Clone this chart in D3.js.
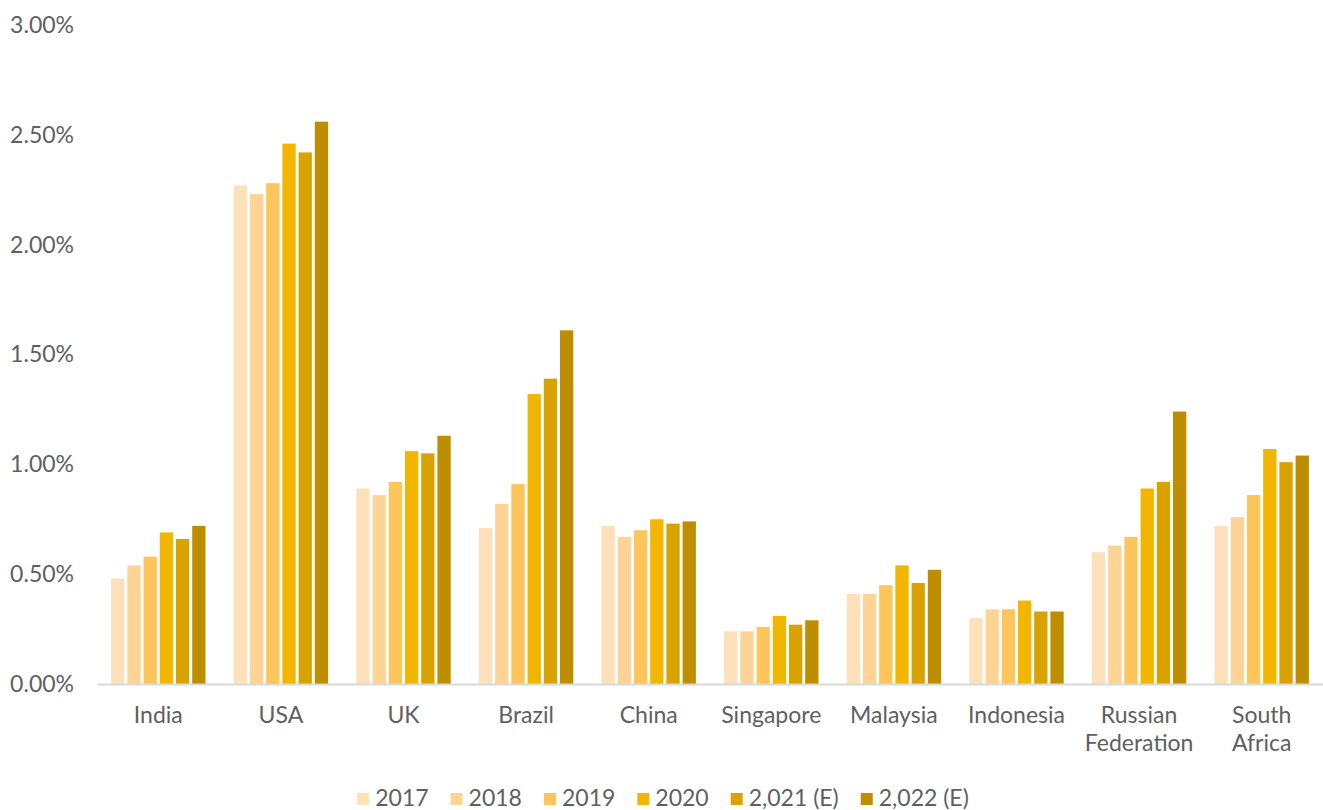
<!DOCTYPE html>
<html>
<head>
<meta charset="utf-8">
<script src="https://cdn.jsdelivr.net/npm/d3@7"></script>
<style>
  html, body { margin: 0; padding: 0; background: #ffffff; }
  svg { display: block; font-family: Lato, "Open Sans", sans-serif; }
</style>
</head>
<body>
<svg id="chart" width="1323" height="810"></svg>
<script>
// Countries along the x axis (labels may wrap on two lines)
const countries = ["India", "USA", "UK", "Brazil", "China", "Singapore", "Malaysia", "Indonesia", "Russian Federation", "South Africa"];
const countryLines = [["India"], ["USA"], ["UK"], ["Brazil"], ["China"], ["Singapore"], ["Malaysia"], ["Indonesia"], ["Russian", "Federation"], ["South", "Africa"]];

// Series (years) and their shares, in percent
const years = ["2017", "2018", "2019", "2020", "2,021 (E)", "2,022 (E)"];
const v2017 = [0.48, 2.27, 0.89, 0.71, 0.72, 0.24, 0.41, 0.30, 0.60, 0.72];
const v2018 = [0.54, 2.23, 0.86, 0.82, 0.67, 0.24, 0.41, 0.34, 0.63, 0.76];
const v2019 = [0.58, 2.28, 0.92, 0.91, 0.70, 0.26, 0.45, 0.34, 0.67, 0.86];
const v2020 = [0.69, 2.46, 1.06, 1.32, 0.75, 0.31, 0.54, 0.38, 0.89, 1.07];
const v2021 = [0.66, 2.42, 1.05, 1.39, 0.73, 0.27, 0.46, 0.33, 0.92, 1.01];
const v2022 = [0.72, 2.56, 1.13, 1.61, 0.74, 0.29, 0.52, 0.33, 1.24, 1.04];
const seriesValues = [v2017, v2018, v2019, v2020, v2021, v2022];
const colors = ["#FEE0BB", "#FED496", "#FEC65A", "#F2B600", "#D8A300", "#BE8D00"];

// Y axis ticks, in percent
const yTicks = [0, 0.5, 1.0, 1.5, 2.0, 2.5, 3.0];

const svg = d3.select("#chart");
const textColor = "#5f5f5f";
const fontSize = 23;

const x0 = d3.scaleBand().domain(countries).range([97, 1323]).paddingInner(0).paddingOuter(0);
const x1 = d3.scaleBand().domain(years).range([-47.2, 47.2]).paddingInner(0.18).paddingOuter(0);
const y = d3.scaleLinear().domain([0, 3.0]).range([684, 25]);

// Y axis labels (no axis line, no gridlines)
const yAxis = d3.axisLeft(y)
  .tickValues(yTicks)
  .tickFormat(d => d.toFixed(2) + "%")
  .tickSize(0)
  .tickPadding(0);
const gy = svg.append("g").attr("transform", "translate(74,0)").call(yAxis);
gy.select(".domain").remove();
gy.selectAll("text")
  .attr("fill", textColor)
  .style("font-size", fontSize + "px")
  .style("font-family", "Lato, sans-serif");

// Bars
const rows = [];
countries.forEach((c, i) => {
  years.forEach((yr, j) => rows.push({ country: c, year: yr, value: seriesValues[j][i], color: colors[j] }));
});
svg.append("g").selectAll("rect")
  .data(rows)
  .join("rect")
  .attr("x", d => x0(d.country) + x0.bandwidth() / 2 + x1(d.year))
  .attr("y", d => y(d.value))
  .attr("width", x1.bandwidth())
  .attr("height", d => y(0) - y(d.value))
  .attr("fill", d => d.color);

// X axis line and category labels
const xAxis = d3.axisBottom(x0).tickSize(0).tickFormat(() => "");
const gx = svg.append("g").attr("transform", "translate(0," + y(0) + ")").call(xAxis);
gx.select(".domain").attr("stroke", "#d9d9d9").attr("stroke-width", 2);

const labels = svg.append("g")
  .attr("fill", textColor)
  .style("font-size", fontSize + "px")
  .attr("text-anchor", "middle");
countries.forEach((c, i) => {
  const t = labels.append("text")
    .attr("x", x0(c) + x0.bandwidth() / 2)
    .attr("y", 723);
  countryLines[i].forEach((line, k) => {
    t.append("tspan")
      .attr("x", x0(c) + x0.bandwidth() / 2)
      .attr("dy", k === 0 ? 0 : 28)
      .text(line);
  });
});

// Legend, centered below the chart
const legendGap = 22;
const legend = svg.append("g").style("font-size", fontSize + "px").attr("fill", textColor);
const items = legend.selectAll("g").data(years).join("g");
items.append("rect")
  .attr("width", 12).attr("height", 12)
  .attr("y", -13)
  .attr("fill", (d, i) => colors[i]);
items.append("text")
  .attr("x", 18)
  .attr("y", 0)
  .text(d => d);
let cursor = 0;
items.each(function () {
  const w = 18 + d3.select(this).select("text").node().getComputedTextLength();
  d3.select(this).attr("transform", "translate(" + cursor + ",0)");
  cursor += w + legendGap;
});
const totalW = cursor - legendGap;
legend.attr("transform", "translate(" + (663 - totalW / 2) + ",806)");
</script>
</body>
</html>
